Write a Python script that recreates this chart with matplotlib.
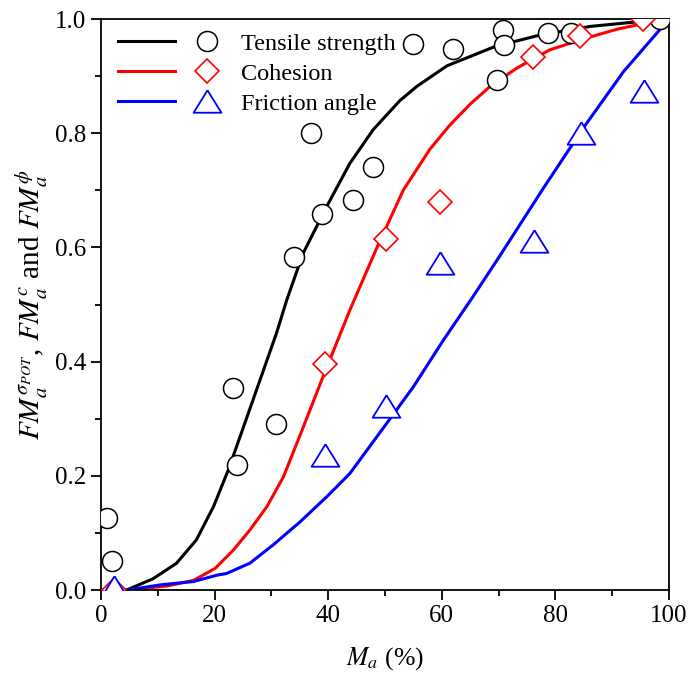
import numpy as np
import matplotlib
matplotlib.use('Agg')
import matplotlib.pyplot as plt
from matplotlib.lines import Line2D
from matplotlib.legend_handler import HandlerTuple

plt.rcParams['font.family'] = ['Liberation Serif', 'DejaVu Serif']
plt.rcParams['mathtext.fontset'] = 'stix'

# data ------------------------------------------------------------------

# measured points
ts_x = [1.0, 1.9, 23.3, 23.9, 30.8, 33.9, 36.9, 38.9, 44.4, 47.9, 54.9, 62.0, 69.7, 70.8, 71.0, 78.7, 82.7, 98.4]
ts_y = [0.126, 0.050, 0.353, 0.219, 0.291, 0.583, 0.800, 0.658, 0.683, 0.741, 0.956, 0.947, 0.893, 0.981, 0.954, 0.975, 0.975, 1.0]

coh_x = [2.3, 39.5, 50.2, 59.7, 76.1, 84.3, 95.5]
coh_y = [0.0, 0.395, 0.614, 0.680, 0.934, 0.971, 1.0]

fri_x = [2.3, 39.4, 50.2, 59.7, 76.2, 84.5, 95.6]
fri_y = [0.006, 0.236, 0.322, 0.572, 0.612, 0.801, 0.874]

# fitted curves
ts_fit_x = [4.5, 9.2, 13.3, 16.8, 19.8, 22.4, 25.1, 28.0, 30.9, 32.7, 35.6, 39.7, 43.8,
            47.9, 52.6, 55.6, 60.9, 69.4, 77.3, 86.1, 94.3, 100]
ts_fit_y = [0.0, 0.020, 0.047, 0.088, 0.146, 0.210, 0.286, 0.368, 0.450, 0.508, 0.590, 0.671, 0.747,
            0.806, 0.857, 0.882, 0.918, 0.952, 0.972, 0.987, 0.995, 1.0]

coh_fit_x = [4.5, 11.6, 16.3, 20.1, 23.3, 26.2, 29.2, 32.1, 35.0, 39.1, 43.8, 48.5, 53.2,
             57.9, 61.4, 65.0, 68.5, 73.2, 79.0, 84.9, 90.8, 95.5, 100]
coh_fit_y = [0.0, 0.007, 0.017, 0.038, 0.070, 0.105, 0.146, 0.198, 0.270, 0.374, 0.490, 0.598, 0.700,
             0.772, 0.814, 0.851, 0.882, 0.914, 0.946, 0.965, 0.982, 0.992, 1.0]

fri_fit_x = [4.5, 10.4, 16.3, 20.4, 22.1, 26.2, 30.3, 35.0, 39.7, 43.8, 50.3, 55.0, 60.3,
             65.5, 70.2, 77.9, 84.9, 92.0, 100]
fri_fit_y = [0.0, 0.009, 0.015, 0.026, 0.029, 0.047, 0.079, 0.119, 0.163, 0.204, 0.292, 0.356, 0.438,
             0.514, 0.585, 0.704, 0.809, 0.908, 1.0]

labels = ['Tensile strength', 'Cohesion', 'Friction angle']

# plot -------------------------------------------------------------------

fig = plt.figure(figsize=(6.89, 6.79), dpi=100)
ax = fig.add_axes([0.1466, 0.131, 0.8244, 0.841])

tri = [(0, 10.5), (-13, -10.5), (13, -10.5), (0, 10.5)]

ax.plot(ts_fit_x, ts_fit_y, color='black', lw=2.2, zorder=2)
ax.plot(coh_fit_x, coh_fit_y, color='red', lw=2.2, zorder=2)
ax.plot(fri_fit_x, fri_fit_y, color='blue', lw=2.2, zorder=2)

mk_ts = dict(marker='o', ms=14.4, mfc='white', mec='black', mew=1.1, ls='none')
mk_coh = dict(marker='D', ms=12.5, mfc='white', mec='red', mew=1.2, ls='none')
mk_fri = dict(marker=tri, ms=20, mfc='white', mec='blue', mew=1.3, ls='none')

ax.plot(ts_x, ts_y, zorder=3, **mk_ts)
ax.plot(coh_x, coh_y, zorder=3, **mk_coh)
ax.plot(fri_x, fri_y, zorder=3, **mk_fri)

ax.set_xlim(0, 100)
ax.set_ylim(0, 1.0)
ax.set_xticks(np.arange(0, 101, 20))
ax.set_xticks(np.arange(10, 100, 20), minor=True)
ax.set_yticks(np.arange(0, 1.01, 0.2))
ax.set_yticks(np.arange(0.1, 1.0, 0.2), minor=True)
ax.yaxis.set_major_formatter(plt.FormatStrFormatter('%.1f'))
ax.tick_params(which='major', direction='out', length=7, width=1.3, labelsize=18)
ax.tick_params(which='minor', direction='out', length=4, width=1.3)
for sp in ax.spines.values():
    sp.set_linewidth(1.3)

ax.set_xlabel(r'$M_a$ (%)', fontsize=18.5, labelpad=13)
ax.set_ylabel(r'$FM_a^{\sigma_{POT}}$, $FM_a^{c}$ and $FM_a^{\phi}$', fontsize=21, labelpad=4)

handles = []
for col, mk in [('black', mk_ts), ('red', mk_coh), ('blue', mk_fri)]:
    ln = Line2D([], [], color=col, lw=2.2)
    pt = Line2D([], [], **mk)
    handles.append((ln, pt))

ax.legend(handles, labels, handler_map={tuple: HandlerTuple(ndivide=None, pad=0.14)},
          loc='upper left', bbox_to_anchor=(0.03, 0.976), borderaxespad=0, borderpad=0,
          frameon=False, fontsize=17.5, handlelength=4.84, handletextpad=0.2,
          labelspacing=0.33, numpoints=1)

fig.savefig('out.png', dpi=100)
